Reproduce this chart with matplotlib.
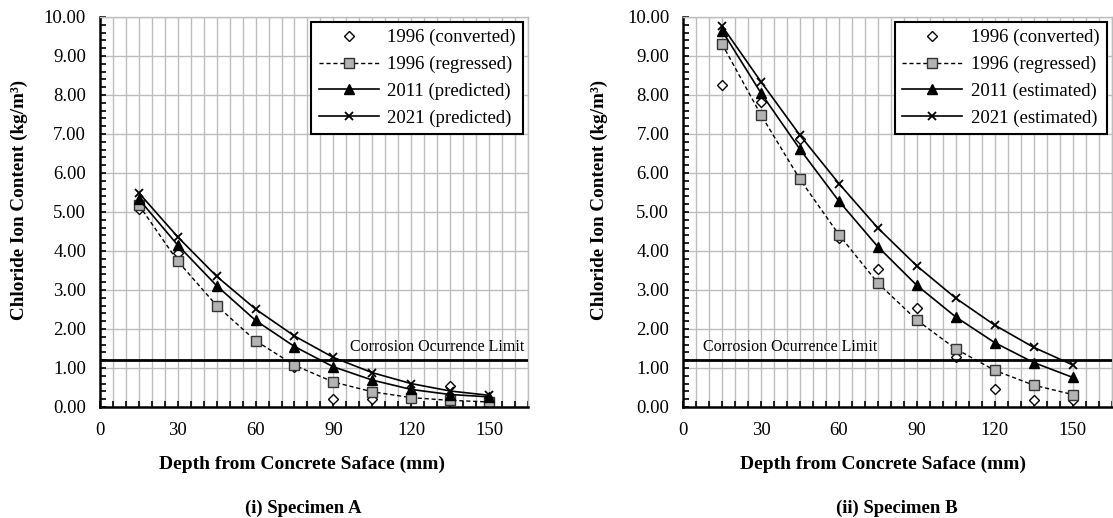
import numpy as np
import matplotlib
matplotlib.use("Agg")
import matplotlib.pyplot as plt

# depth of each sample (mm)
depth = [15, 30, 45, 60, 75, 90, 105, 120, 135, 150]

# Specimen A (kg/m3)
a_1996_conv = [5.07, 3.94, 2.58, 1.70, 1.03, 0.21, 0.21, 0.23, 0.53, 0.13]
a_1996_regr = [5.18, 3.74, 2.60, 1.70, 1.07, 0.64, 0.39, 0.24, 0.17, 0.13]
a_2011 = [5.33, 4.15, 3.11, 2.22, 1.55, 1.03, 0.69, 0.45, 0.32, 0.26]
a_2021 = [5.49, 4.36, 3.35, 2.51, 1.82, 1.27, 0.88, 0.60, 0.41, 0.30]

# Specimen B (kg/m3)
b_1996_conv = [8.25, 7.81, 6.88, 4.33, 3.55, 2.55, 1.27, 0.45, 0.17, 0.17]
b_1996_regr = [9.31, 7.49, 5.84, 4.42, 3.18, 2.23, 1.49, 0.94, 0.56, 0.32]
b_2011 = [9.65, 8.05, 6.61, 5.28, 4.11, 3.12, 2.31, 1.65, 1.14, 0.76]
b_2021 = [9.77, 8.34, 6.97, 5.73, 4.59, 3.62, 2.79, 2.10, 1.53, 1.08]

corrosion_limit = 1.2

labels_a = ["1996 (converted)", "1996 (regressed)", "2011 (predicted)", "2021 (predicted)"]
labels_b = ["1996 (converted)", "1996 (regressed)", "2011 (estimated)", "2021 (estimated)"]

plt.rcParams['font.family'] = ['Liberation Serif', 'DejaVu Serif']
plt.rcParams['font.size'] = 13.5

GRID = '#bdbdbd'


def draw_panel(ax, conv, regr, y2011, y2021, labels, limit_left):
    ax.plot(depth, conv, linestyle='none', marker='D', ms=5, mfc='white',
            mec='black', mew=1.0, label=labels[0])
    ax.plot(depth, regr, color='black', lw=1.0, linestyle=(0, (3, 2)), marker='s',
            ms=7, mfc='#b3b3b3', mec='#333333', mew=1.0, label=labels[1])
    ax.plot(depth, y2011, color='black', lw=1.2, marker='^', ms=7,
            mfc='black', mec='black', label=labels[2])
    ax.plot(depth, y2021, color='black', lw=1.2, marker='x', ms=6,
            mew=1.3, label=labels[3])

    ax.axhline(corrosion_limit, color='black', lw=2.0, zorder=4)
    if limit_left:
        ax.text(7.5, 1.34, "Corrosion Ocurrence Limit", fontsize=11.5,
                ha='left', va='bottom')
    else:
        ax.text(163.5, 1.34, "Corrosion Ocurrence Limit", fontsize=11.5,
                ha='right', va='bottom')

    ax.set_xlim(0, 165)
    ax.set_ylim(0, 10)
    ax.set_xticks(np.arange(0, 151, 30))
    ax.set_xticks(np.arange(0, 166, 5), minor=True)
    ax.set_yticks(np.arange(0, 10.01, 1.0))
    ax.set_yticks(np.arange(0, 10.01, 0.2), minor=True)
    ax.yaxis.set_major_formatter(matplotlib.ticker.FormatStrFormatter('%.2f'))

    ax.grid(True, which='minor', axis='x', color=GRID, lw=1.0)
    ax.grid(True, which='major', axis='x', color=GRID, lw=1.0)
    ax.grid(True, which='major', axis='y', color=GRID, lw=1.0)
    ax.set_axisbelow(True)

    ax.tick_params(which='both', direction='in', length=4, width=1.2)
    ax.tick_params(axis='y', which='major', pad=10)
    ax.tick_params(axis='x', which='major', pad=11)
    for s in ['left', 'bottom']:
        ax.spines[s].set_linewidth(1.8)
        ax.spines[s].set_color('black')
    for s in ['top', 'right']:
        ax.spines[s].set_linewidth(1.0)
        ax.spines[s].set_color(GRID)

    ax.set_ylabel("Chloride Ion Content (kg/m³)", fontweight='bold', fontsize=13.8)
    ax.set_xlabel("Depth from Concrete Saface (mm)", fontweight='bold', fontsize=14)

    leg = ax.legend(loc='upper right', bbox_to_anchor=(1.0, 1.0), borderaxespad=0.25,
                    fancybox=False, framealpha=1, edgecolor='black',
                    handlelength=3.2, handletextpad=0.45, labelspacing=0.5,
                    borderpad=0.4, fontsize=13.5)
    leg.get_frame().set_linewidth(1.5)
    leg.set_zorder(6)


fig = plt.figure(figsize=(11.13, 5.18), dpi=100)
ax1 = fig.add_axes([0.0898, 0.2143, 0.3845, 0.7529])
ax2 = fig.add_axes([0.6137, 0.2143, 0.3850, 0.7529])

draw_panel(ax1, a_1996_conv, a_1996_regr, a_2011, a_2021, labels_a, False)
draw_panel(ax2, b_1996_conv, b_1996_regr, b_2011, b_2021, labels_b, True)

ax1.yaxis.set_label_coords(-0.168, 0.53)
ax2.yaxis.set_label_coords(-0.175, 0.53)
ax1.xaxis.set_label_coords(0.472, -0.125)
ax2.xaxis.set_label_coords(0.466, -0.125)

fig.text(303 / 1113, 1 - 508 / 518, "(i) Specimen A", fontweight='bold',
         fontsize=13.5, ha='center', va='center')
fig.text(897 / 1113, 1 - 508 / 518, "(ii) Specimen B", fontweight='bold',
         fontsize=13.5, ha='center', va='center')

fig.savefig("out.png", dpi=100)
